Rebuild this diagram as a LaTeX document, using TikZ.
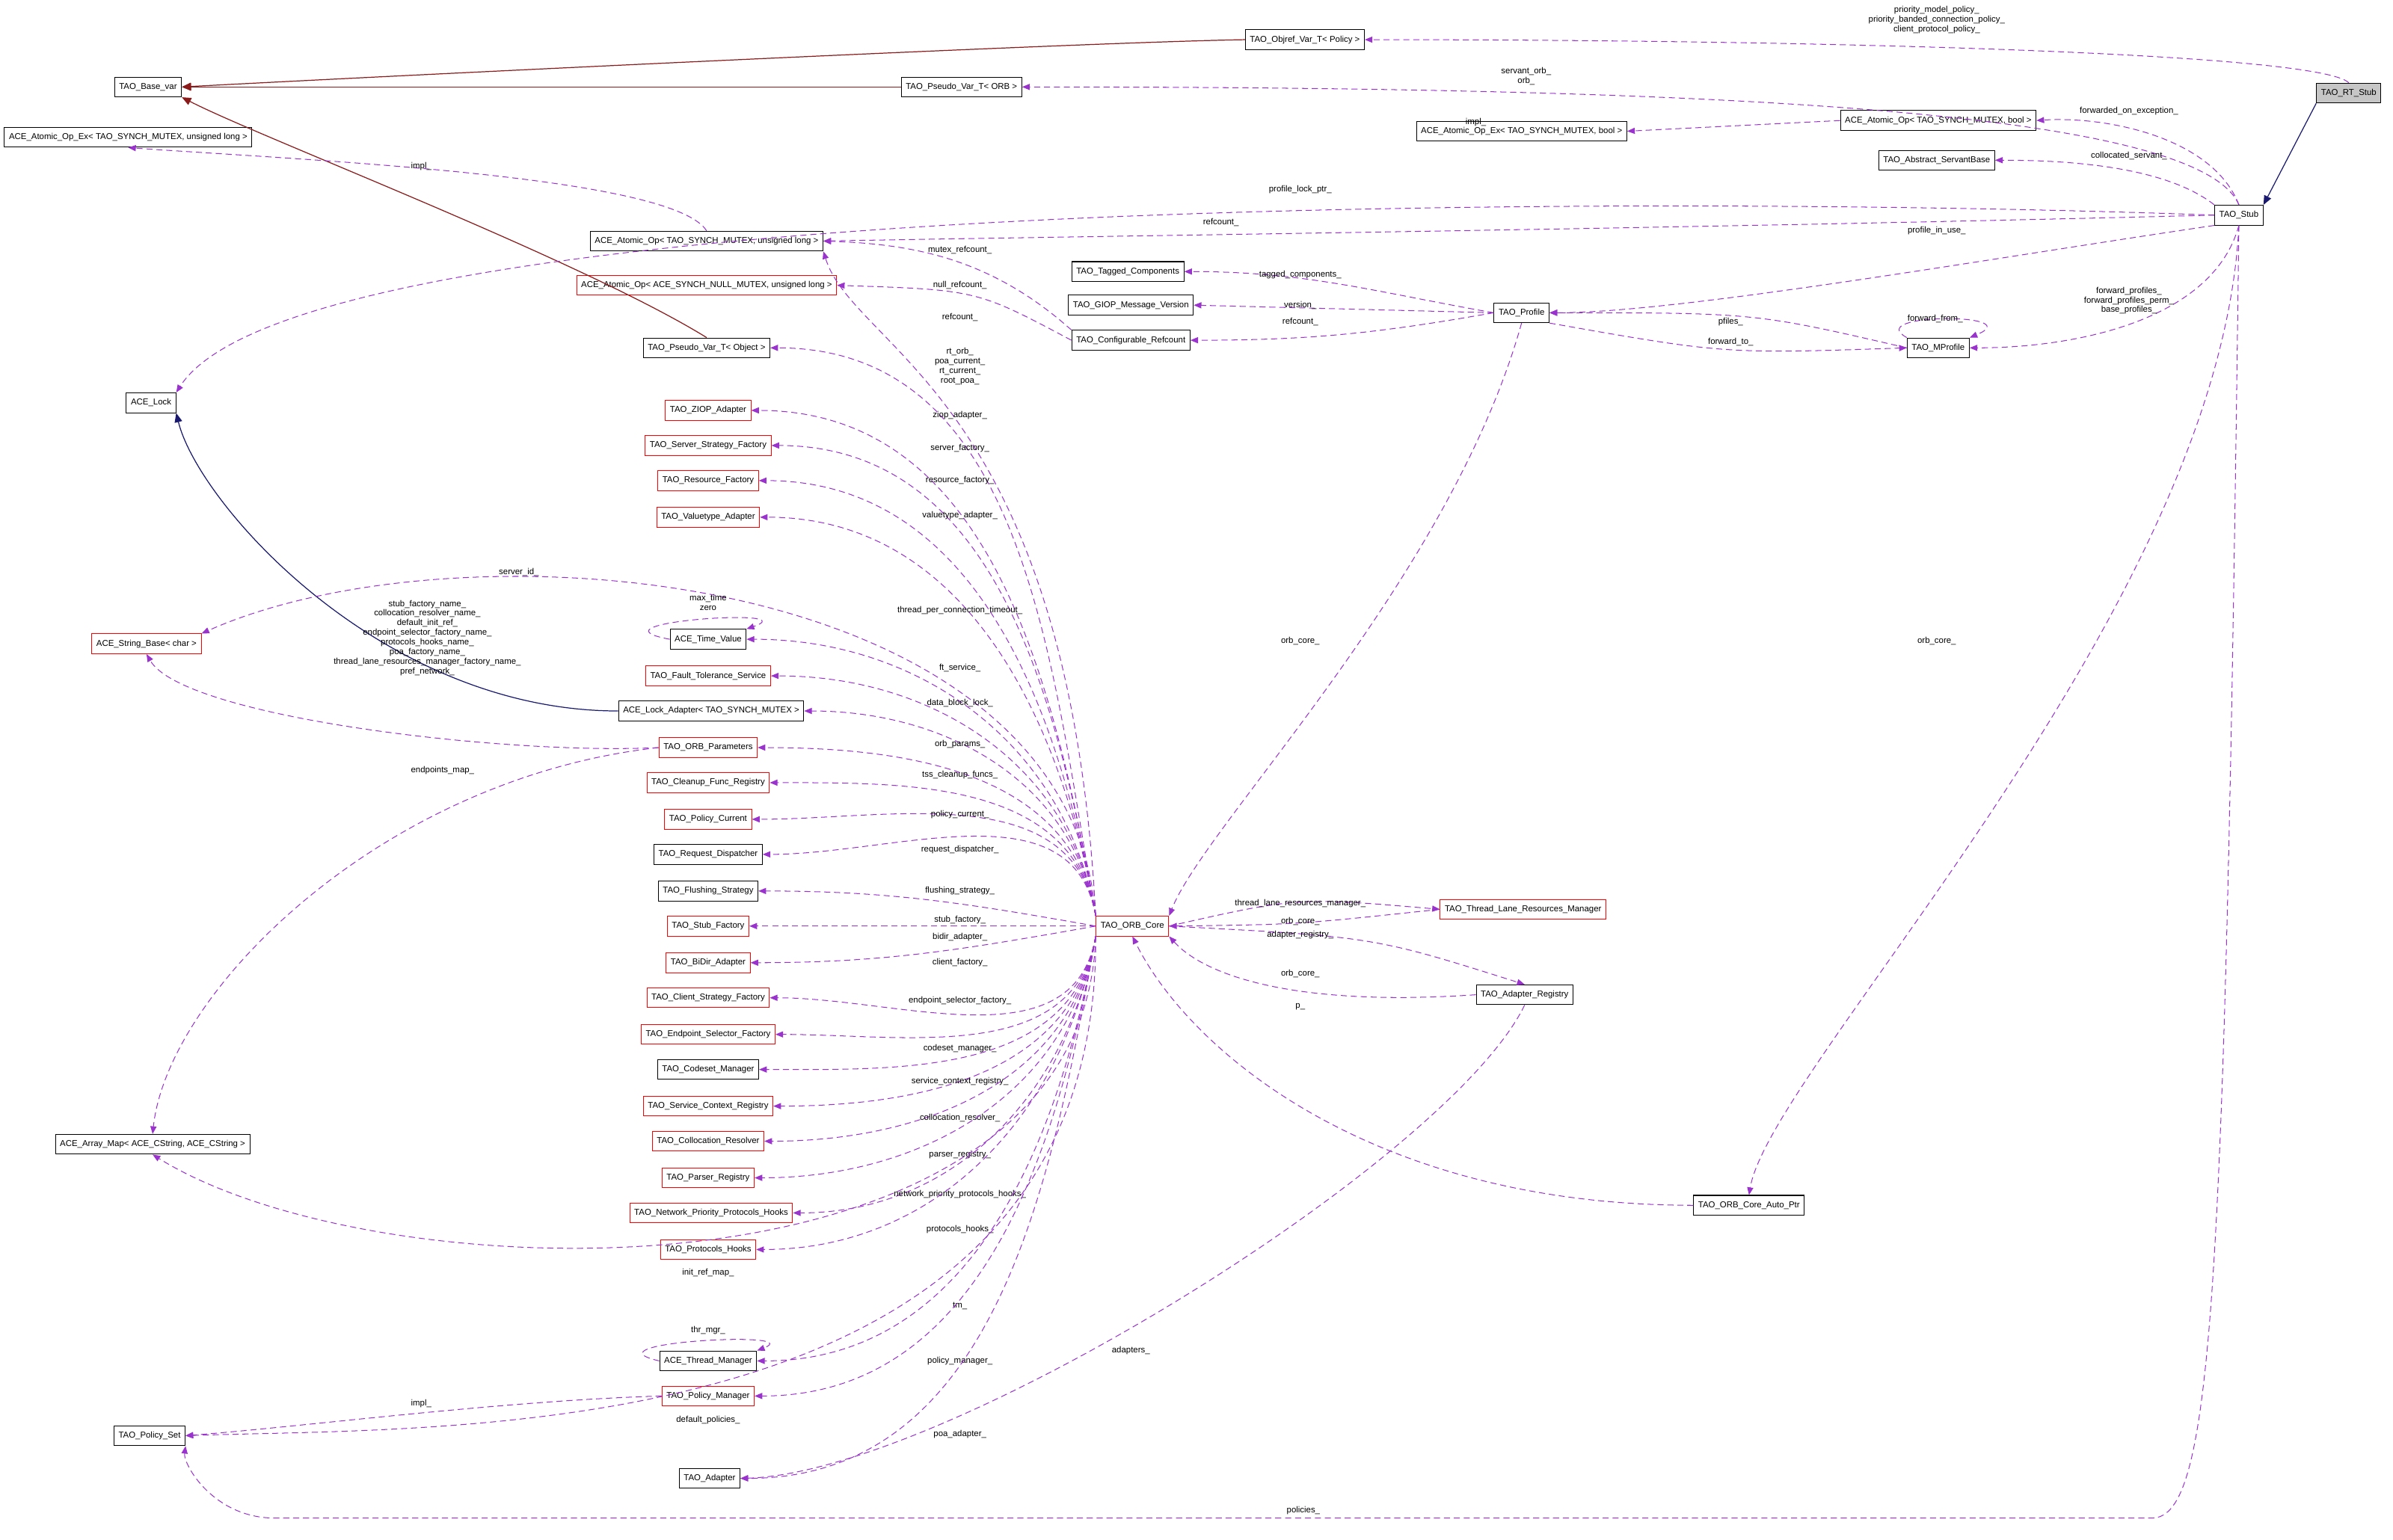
\documentclass[tikz,border=0pt]{standalone}
\usepackage{fontspec}
\setmainfont{Liberation Sans}
\usetikzlibrary{arrows.meta}
\definecolor{dep}{HTML}{9A32CD}
\definecolor{navy}{HTML}{191970}
\definecolor{dred}{HTML}{8B1A1A}
\tikzset{
 box/.style={draw=black,fill=white,font=\fontsize{5.6}{6.3}\selectfont,inner xsep=3pt,inner ysep=0pt,minimum height=13pt,line width=0.5pt},
 rbox/.style={box,draw=red},
 lbl/.style={font=\fontsize{5.6}{6.3}\selectfont,align=center,inner sep=0pt},
 depd/.style={draw=dep,dashed,dash pattern=on 4pt off 2.5pt,line width=0.5pt,-{Triangle[length=5pt,width=4pt]},dep},
 inh/.style={line width=0.6pt,-{Triangle[length=6pt,width=5pt]}},
}
\newcounter{lb}
\newcommand\lbl[2]{\stepcounter{lb}\node[lbl] (l\thelb) at #1 {#2};}
\newcommand\orbup[1]{\draw[depd] (orb.north west) to[out=100,in=0] (#1.east);}
\newcommand\orbmid[1]{\draw[depd] (orb.west) to[out=170,in=0] (#1.east);}
\newcommand\orbdn[1]{\draw[depd] (orb.south west) to[out=260,in=0] (#1.east);}
\begin{document}
\begin{tikzpicture}[x=1pt,y=-1pt]
\useasboundingbox (0,0) rectangle (1568,1009);
% nodes
\node[box,fill=gray!45] (rtstub) at (1539,61) {TAO\_RT\_Stub};
\node[box] (objref) at (855,26) {TAO\_Objref\_Var\_T< Policy >};
\node[box] (basevar) at (97,57) {TAO\_Base\_var};
\node[box] (pvorb) at (630,57) {TAO\_Pseudo\_Var\_T< ORB >};
\node[box] (aoexb) at (997,86) {ACE\_Atomic\_Op\_Ex< TAO\_SYNCH\_MUTEX, bool >};
\node[box] (aob) at (1270,79) {ACE\_Atomic\_Op< TAO\_SYNCH\_MUTEX, bool >};
\node[box] (asb) at (1269,105) {TAO\_Abstract\_ServantBase};
\node[box] (aoexul) at (84,90) {ACE\_Atomic\_Op\_Ex< TAO\_SYNCH\_MUTEX, unsigned long >};
\node[box] (stub) at (1467,141) {TAO\_Stub};
\node[box] (aoul) at (463,158) {ACE\_Atomic\_Op< TAO\_SYNCH\_MUTEX, unsigned long >};
\node[box] (tagged) at (739,178) {TAO\_Tagged\_Components};
\node[rbox] (aonull) at (463,187) {ACE\_Atomic\_Op< ACE\_SYNCH\_NULL\_MUTEX, unsigned long >};
\node[box] (giop) at (741,200) {TAO\_GIOP\_Message\_Version};
\node[box] (profile) at (997,205) {TAO\_Profile};
\node[box] (cr) at (741,223) {TAO\_Configurable\_Refcount};
\node[box] (mprof) at (1270,228) {TAO\_MProfile};
\node[box] (pvobj) at (463,228) {TAO\_Pseudo\_Var\_T< Object >};
\node[box] (acelock) at (99,264) {ACE\_Lock};
\node[rbox] (ziop) at (464,269) {TAO\_ZIOP\_Adapter};
\node[rbox] (ssf) at (464,292) {TAO\_Server\_Strategy\_Factory};
\node[rbox] (rf) at (464,315) {TAO\_Resource\_Factory};
\node[rbox] (vta) at (464,339) {TAO\_Valuetype\_Adapter};
\node[rbox] (strb) at (96,422) {ACE\_String\_Base< char >};
\node[box] (tv) at (464,419) {ACE\_Time\_Value};
\node[rbox] (fts) at (464,443) {TAO\_Fault\_Tolerance\_Service};
\node[box] (la) at (466,466) {ACE\_Lock\_Adapter< TAO\_SYNCH\_MUTEX >};
\node[rbox] (op) at (464,490) {TAO\_ORB\_Parameters};
\node[rbox] (cfr) at (464,513) {TAO\_Cleanup\_Func\_Registry};
\node[rbox] (pc) at (464,537) {TAO\_Policy\_Current};
\node[box] (rd) at (464,560) {TAO\_Request\_Dispatcher};
\node[box] (fs) at (464,584) {TAO\_Flushing\_Strategy};
\node[rbox] (sf) at (464,607) {TAO\_Stub\_Factory};
\node[rbox] (bd) at (464,631) {TAO\_BiDir\_Adapter};
\node[rbox] (csf) at (464,654) {TAO\_Client\_Strategy\_Factory};
\node[rbox] (esf) at (464,678) {TAO\_Endpoint\_Selector\_Factory};
\node[box] (cm) at (464,701) {TAO\_Codeset\_Manager};
\node[rbox] (scr) at (464,725) {TAO\_Service\_Context\_Registry};
\node[rbox] (cres) at (464,748) {TAO\_Collocation\_Resolver};
\node[rbox] (preg) at (464,772) {TAO\_Parser\_Registry};
\node[rbox] (nph) at (466,795) {TAO\_Network\_Priority\_Protocols\_Hooks};
\node[rbox] (ph) at (464,819) {TAO\_Protocols\_Hooks};
\node[box] (am) at (100,750) {ACE\_Array\_Map< ACE\_CString, ACE\_CString >};
\node[box] (tm) at (464,892) {ACE\_Thread\_Manager};
\node[rbox] (pm) at (464,915) {TAO\_Policy\_Manager};
\node[box] (ps) at (98,941) {TAO\_Policy\_Set};
\node[box] (ad) at (465,969) {TAO\_Adapter};
\node[rbox] (orb) at (742,607) {TAO\_ORB\_Core};
\node[rbox] (tlrm) at (998,596) {TAO\_Thread\_Lane\_Resources\_Manager};
\node[box] (ar) at (999,652) {TAO\_Adapter\_Registry};
\node[box] (ap) at (1146,790) {TAO\_ORB\_Core\_Auto\_Ptr};
% inheritance
\draw[inh,navy] (rtstub.south west) -- (stub.north east);
\draw[inh,dred] (objref.west) .. controls (700,28) and (250,50) .. (basevar.east);
\draw[inh,dred] (pvorb.west) -- (basevar.east);
\draw[inh,dred] (pvobj.north) .. controls (380,170) and (170,90) .. (basevar.south east);
\draw[inh,navy] (la.west) .. controls (250,466) and (130,330) .. (acelock.south east);
% stub edges
\draw[depd] (rtstub.north) .. controls (1520,35) and (1200,26) .. (objref.east);
\lbl{(1269,13)}{priority\_model\_policy\_\\priority\_banded\_connection\_policy\_\\client\_protocol\_policy\_}
\draw[depd] (stub.north) .. controls (1440,70) and (1100,57) .. (pvorb.east);
\lbl{(1000,50)}{servant\_orb\_\\orb\_}
\draw[depd] (aob.west) -- (aoexb.east); \lbl{(967,80)}{impl\_}
\draw[depd] (stub.north) .. controls (1450,90) and (1380,76) .. (aob.east); \lbl{(1395,73)}{forwarded\_on\_exception\_}
\draw[depd] (stub.north west) .. controls (1420,110) and (1360,105) .. (asb.east); \lbl{(1395,102)}{collocated\_servant\_}
\draw[depd] (stub.west) .. controls (1100,128) and (200,125) .. (acelock.north east); \lbl{(852,124)}{profile\_lock\_ptr\_}
\draw[depd] (stub.west) .. controls (1100,150) and (700,155) .. (aoul.east); \lbl{(800,146)}{refcount\_}
\draw[depd] (stub.south west) .. controls (1300,170) and (1100,205) .. (profile.east); \lbl{(1269,151)}{profile\_in\_use\_}
\draw[depd] (stub.south) .. controls (1450,210) and (1360,228) .. (mprof.east); \lbl{(1395,197)}{forward\_profiles\_\\forward\_profiles\_perm\_\\base\_profiles\_}
\draw[depd] (stub.south) .. controls (1455,400) and (1160,700) .. (ap.north); \lbl{(1269,420)}{orb\_core\_}
\coordinate (pa) at (1410,995); \coordinate (pb) at (180,995);
\draw[depd] (stub.south) .. controls (1458,850) and (1450,995) .. (pa) -- (pb) .. controls (140,995) and (120,960) .. (ps.south east); \lbl{(854,990)}{policies\_}
% profile edges
\draw[depd] (profile.west) to[out=170,in=0] (tagged.east); \lbl{(852,180)}{tagged\_components\_}
\draw[depd] (profile.west) -- (giop.east); \lbl{(852,200)}{version\_}
\draw[depd] (profile.west) to[out=190,in=0] (cr.east); \lbl{(852,211)}{refcount\_}
\draw[depd] (mprof.west) .. controls (1150,205) .. (profile.east); \lbl{(1134,211)}{pfiles\_}
\draw[depd] (profile.south east) .. controls (1130,232) .. (mprof.west); \lbl{(1134,224)}{forward\_to\_}
\draw[depd] (mprof.north west) .. controls (1220,205) and (1330,205) .. (mprof.north east); \lbl{(1268,209)}{forward\_from\_}
\draw[depd] (profile.south) .. controls (950,380) and (790,540) .. (orb.north east); \lbl{(852,420)}{orb\_core\_}
% refcount
\draw[depd] (aoul.north) .. controls (440,115) and (200,105) .. (aoexul.south); \lbl{(276,109)}{impl\_}
\draw[depd] (cr.north west) .. controls (650,170) and (600,160) .. (aoul.east); \lbl{(629,164)}{mutex\_refcount\_}
\draw[depd] (cr.west) .. controls (640,190) .. (aonull.east); \lbl{(629,187)}{null\_refcount\_}
\draw[depd] (orb.north west) .. controls (700,260) and (560,230) .. (aoul.south east); \lbl{(629,208)}{refcount\_}
% orb core fan
\orbup{pvobj} \lbl{(629,240)}{rt\_orb\_\\poa\_current\_\\rt\_current\_\\root\_poa\_}
\orbup{ziop} \lbl{(629,272)}{ziop\_adapter\_}
\orbup{ssf} \lbl{(629,294)}{server\_factory\_}
\orbup{rf} \lbl{(629,315)}{resource\_factory\_}
\orbup{vta} \lbl{(629,338)}{valuetype\_adapter\_}
\draw[depd] (orb.north west) .. controls (700,370) and (300,340) .. (strb.north east); \lbl{(340,375)}{server\_id\_}
\orbup{tv} \lbl{(629,400)}{thread\_per\_connection\_timeout\_}
\draw[depd] (tv.west) .. controls (380,408) and (530,398) .. (tv.north east); \lbl{(464,395)}{max\_time\\zero}
\orbup{fts} \lbl{(629,438)}{ft\_service\_}
\orbup{la} \lbl{(629,461)}{data\_block\_lock\_}
\orbup{op} \lbl{(629,488)}{orb\_params\_}
\orbup{cfr} \lbl{(629,508)}{tss\_cleanup\_funcs\_}
\orbup{pc} \lbl{(629,534)}{policy\_current\_}
\orbup{rd} \lbl{(629,557)}{request\_dispatcher\_}
\orbmid{fs} \lbl{(629,584)}{flushing\_strategy\_}
\draw[depd] (orb.west) -- (sf.east); \lbl{(629,603)}{stub\_factory\_}
\draw[depd] (orb.west) to[out=190,in=0] (bd.east); \lbl{(629,614)}{bidir\_adapter\_}
\orbdn{csf} \lbl{(629,631)}{client\_factory\_}
\orbdn{esf} \lbl{(629,656)}{endpoint\_selector\_factory\_}
\orbdn{cm} \lbl{(629,687)}{codeset\_manager\_}
\orbdn{scr} \lbl{(629,709)}{service\_context\_registry\_}
\orbdn{cres} \lbl{(629,733)}{collocation\_resolver\_}
\orbdn{preg} \lbl{(629,757)}{parser\_registry\_}
\orbdn{nph} \lbl{(629,783)}{network\_priority\_protocols\_hooks\_}
\orbdn{ph} \lbl{(629,806)}{protocols\_hooks\_}
\draw[depd] (orb.south west) .. controls (710,860) and (250,850) .. (am.south); \lbl{(464,834)}{init\_ref\_map\_}
\orbdn{tm} \lbl{(629,856)}{tm\_}
\draw[depd] (tm.west) .. controls (380,880) and (530,872) .. (tm.north east); \lbl{(464,872)}{thr\_mgr\_}
\orbdn{pm} \lbl{(629,892)}{policy\_manager\_}
\draw[depd] (orb.south west) .. controls (720,950) and (300,935) .. (ps.east); \lbl{(464,931)}{default\_policies\_}
\orbdn{ad} \lbl{(629,940)}{poa\_adapter\_}
\draw[depd] (pm.west) .. controls (330,918) and (200,935) .. (ps.east); \lbl{(276,920)}{impl\_}
% orb params
\draw[depd] (op.west) .. controls (330,495) and (120,470) .. (strb.south); \lbl{(280,418)}{stub\_factory\_name\_\\collocation\_resolver\_name\_\\default\_init\_ref\_\\endpoint\_selector\_factory\_name\_\\protocols\_hooks\_name\_\\poa\_factory\_name\_\\thread\_lane\_resources\_manager\_factory\_name\_\\pref\_network\_}
\draw[depd] (op.west) .. controls (250,510) and (110,650) .. (am.north); \lbl{(290,505)}{endpoints\_map\_}
% right side of orb
\draw[depd] (orb.east) .. controls (850,588) .. (tlrm.west); \lbl{(852,592)}{thread\_lane\_resources\_manager\_}
\draw[depd] (tlrm.west) .. controls (850,606) .. (orb.east); \lbl{(852,604)}{orb\_core\_}
\draw[depd] (orb.east) .. controls (900,614) .. (ar.north); \lbl{(852,613)}{adapter\_registry\_}
\draw[depd] (ar.west) .. controls (850,660) and (790,640) .. (orb.south east); \lbl{(852,638)}{orb\_core\_}
\draw[depd] (ap.west) .. controls (900,790) and (780,690) .. (orb.south); \lbl{(852,660)}{p\_}
\draw[depd] (ar.south) .. controls (950,760) and (620,965) .. (ad.east); \lbl{(741,885)}{adapters\_}
\end{tikzpicture}
\end{document}
